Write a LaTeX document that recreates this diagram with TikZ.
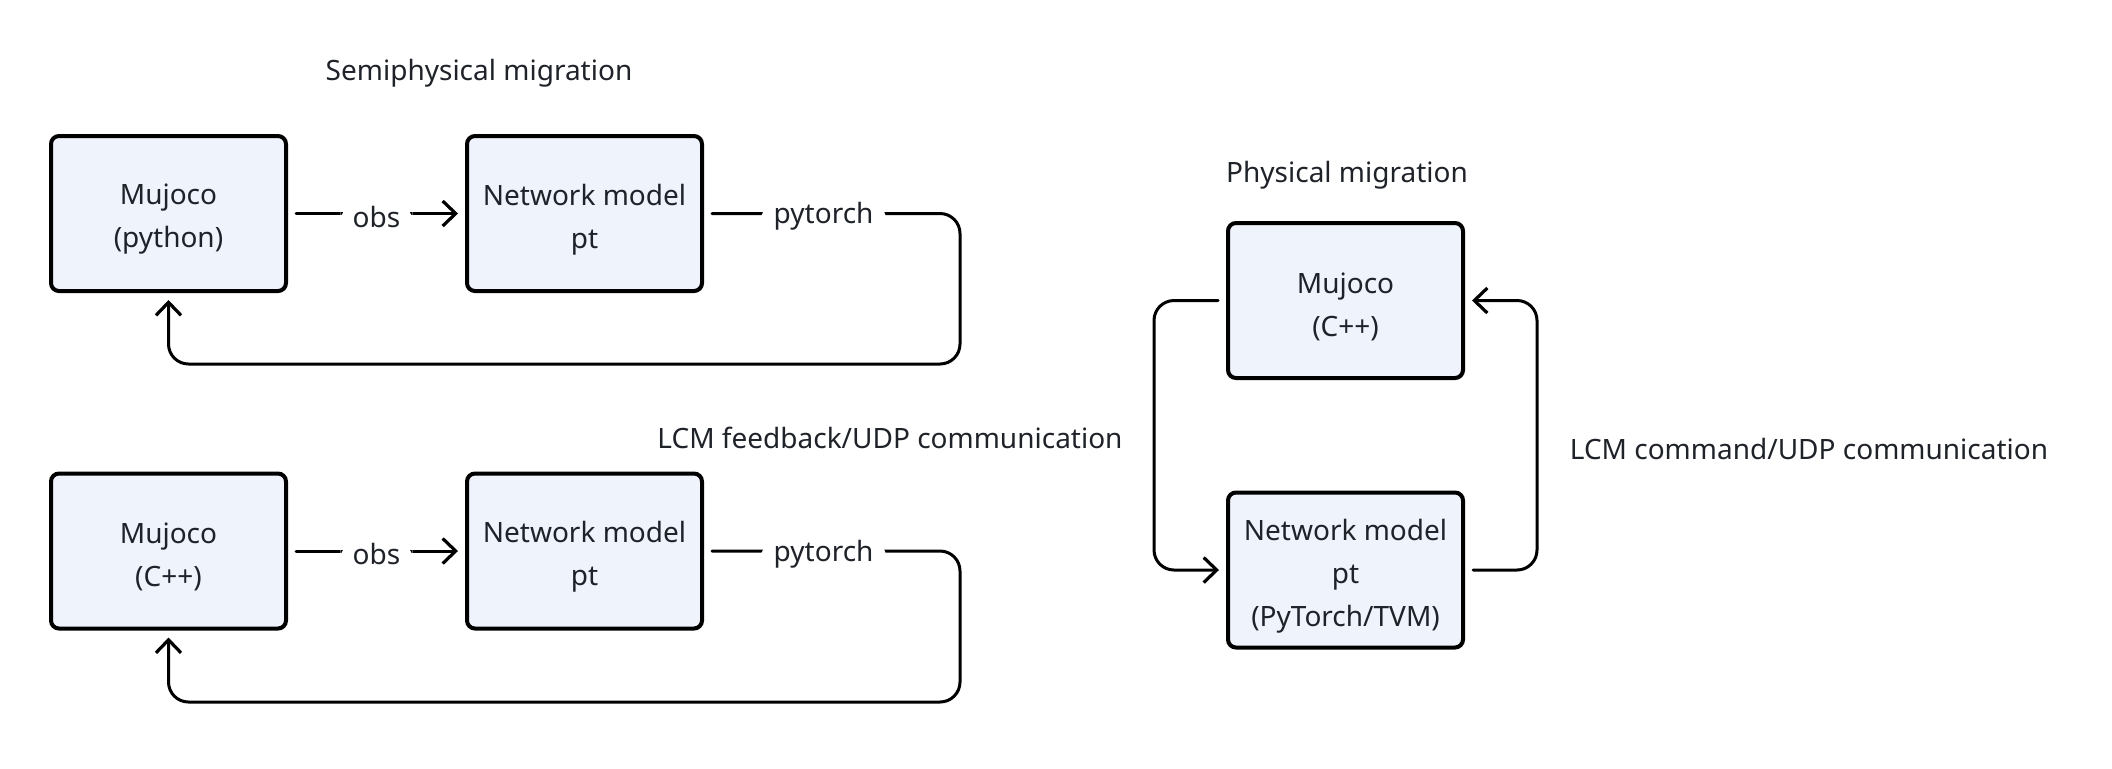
\documentclass[tikz,border=0pt]{standalone}
\usepackage{fontspec}
\setmainfont{Noto Sans}
\usetikzlibrary{arrows.meta}
\definecolor{boxfill}{RGB}{239,243,252}
\definecolor{ink}{RGB}{31,35,41}
\begin{document}
\begin{tikzpicture}[x=0.5pt,y=-0.5pt,
  font=\fontsize{14}{21.5}\selectfont,
  box/.style={draw=black, line width=2pt, fill=boxfill, rounded corners=4pt,
    minimum width=117.5pt, minimum height=77.5pt, inner sep=0pt},
  boxtext/.style={align=center, text=ink, yshift=-3pt},
  conn/.style={line width=1.5pt, draw=black, rounded corners=10pt, line cap=round},
  tip/.style={-{Straight Barb[length=6.5pt,width=12.5pt,line width=1.6pt]}},
  lbl/.style={fill=white, text=ink, inner xsep=6pt, inner ysep=2pt, yshift=-1.5pt},
  txt/.style={text=ink}]
\useasboundingbox (0,0) rectangle (2112,768);
% titles
\node[txt] (t1) at (479,73) {Semiphysical migration};
\node[txt] (t2) at (1347,175) {Physical migration};
\node[txt] (t3) at (890,438) {LCM feedback/UDP communication};
\node[txt] (t4) at (1809,449) {LCM command/UDP communication};
% top row
\node[box] (a1) at (168.5,213.5) {};
\node[boxtext] (a1t) at (a1.center) {Mujoco\\(python)};
\node[box] (a2) at (584.5,213.5) {};
\node[boxtext] (a2t) at (a2.center) {Network model\\pt};
% bottom row
\node[box] (b1) at (168.5,551) {};
\node[boxtext] (b1t) at (b1.center) {Mujoco\\(C++)};
\node[box] (b2) at (584.5,551) {};
\node[boxtext] (b2t) at (b2.center) {Network model\\pt};
% right
\node[box] (c1) at (1345.5,300.5) {};
\node[boxtext] (c1t) at (c1.center) {Mujoco\\(C++)};
\node[box] (c2) at (1345.5,570) {};
\node[boxtext] (c2t) at (c2.center) {Network model\\pt\\(PyTorch/TVM)};
% top connectors
\draw[conn,tip,shorten <=4pt,shorten >=3.5pt] (a1.east) -- node[lbl]{obs} (a2.west);
\draw[conn,tip,shorten >=3.5pt] ([xshift=4pt]a2.east) -- node[lbl,pos=0.45]{pytorch} (960,213.5) -- (960,364) -- (a1.south |- 0,364) -- (a1.south);
% bottom connectors
\draw[conn,tip,shorten <=4pt,shorten >=3.5pt] (b1.east) -- node[lbl]{obs} (b2.west);
\draw[conn,tip,shorten >=3.5pt] ([xshift=4pt]b2.east) -- node[lbl,pos=0.45]{pytorch} (960,551) -- (960,702) -- (b1.south |- 0,702) -- (b1.south);
% right connectors
\draw[conn,tip,shorten >=3.5pt] ([xshift=-4pt]c1.west) -- (1154,300.5) -- (1154,570) -- (c2.west);
\draw[conn,tip,shorten >=3.5pt] ([xshift=4pt]c2.east) -- (1537,570) -- (1537,300.5) -- (c1.east);
\end{tikzpicture}
\end{document}
